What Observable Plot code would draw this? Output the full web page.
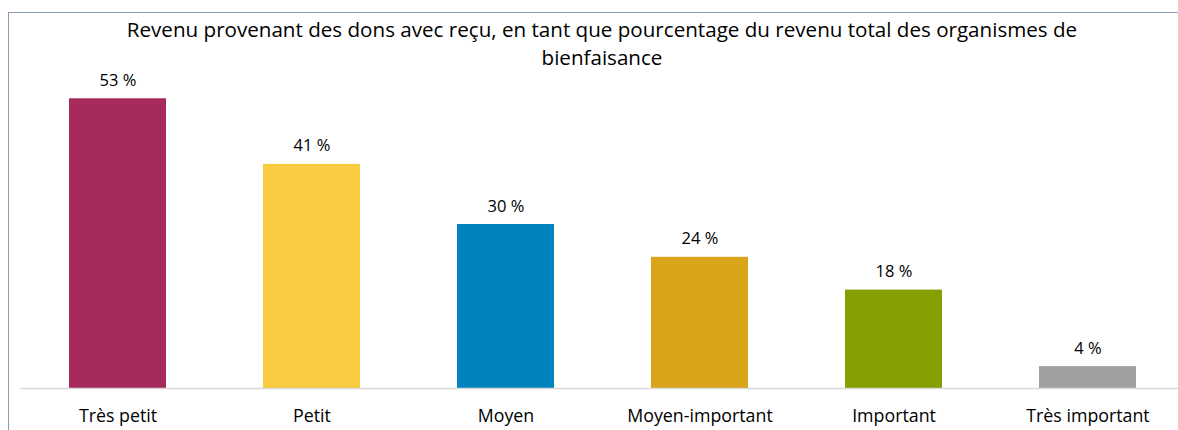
<!DOCTYPE html>
<html>
<head>
<meta charset="utf-8">
<script src="https://cdn.jsdelivr.net/npm/d3@7"></script>
<script src="https://cdn.jsdelivr.net/npm/@observablehq/plot@0.6"></script>
<style>
  html, body { margin: 0; padding: 0; background: #fff; overflow: hidden; }
  #wrap { position: relative; width: 1178px; height: 430px; overflow: hidden; font-family: "Open Sans", sans-serif; }
  #frame { position: absolute; left: 8px; top: 12px; width: 1300px; height: 600px; border: 1px solid #8a9db6; box-sizing: border-box; }
  #title { position: absolute; left: 0; top: 15px; width: 1204px; text-align: center; font-size: 20.6px; line-height: 28px; color: #000; }
  #chart { position: absolute; left: 0; top: 0; width: 1200px; }
  #chart svg { max-width: none !important; }
</style>
</head>
<body>
<div id="wrap">
  <div id="frame"></div>
  <div id="chart"></div>
  <div id="title">Revenu provenant des dons avec reçu, en tant que pourcentage du revenu total des organismes de<br>bienfaisance</div>
</div>
<script>
const categories = ["Très petit", "Petit", "Moyen", "Moyen-important", "Important", "Très important"];
const values = [53, 41, 30, 24, 18, 4];
const colors = ["#A72A5C", "#F9CB40", "#0083BF", "#D9A31A", "#879E00", "#A0A0A2"];

const data = categories.map((c, i) => ({category: c, value: values[i], color: colors[i]}));

const plot = Plot.plot({
  width: 1200,
  height: 430,
  marginLeft: 20.5,
  marginRight: 15.5,
  marginTop: 60,
  marginBottom: 42,
  style: {fontFamily: "'Open Sans', sans-serif", background: "transparent", overflow: "visible", maxWidth: "none"},
  x: {domain: categories, paddingInner: 0.5, paddingOuter: 0.25},
  y: {domain: [0, 60], axis: null},
  marks: [
    Plot.barY(data, {x: "category", y: "value", fill: "color"}),
    Plot.ruleY([0], {stroke: "#d9d9d9", strokeWidth: 1.5}),
    Plot.text(data, {x: "category", y: "value", text: d => `${d.value} %`, lineAnchor: "bottom", dy: -13, fontSize: 16.5, fill: "#000"}),
    Plot.axisX({tickSize: 0, tickPadding: 21, fontSize: 17.8, label: null, color: "#000"})
  ]
});
document.getElementById("chart").appendChild(plot);
</script>
</body>
</html>
